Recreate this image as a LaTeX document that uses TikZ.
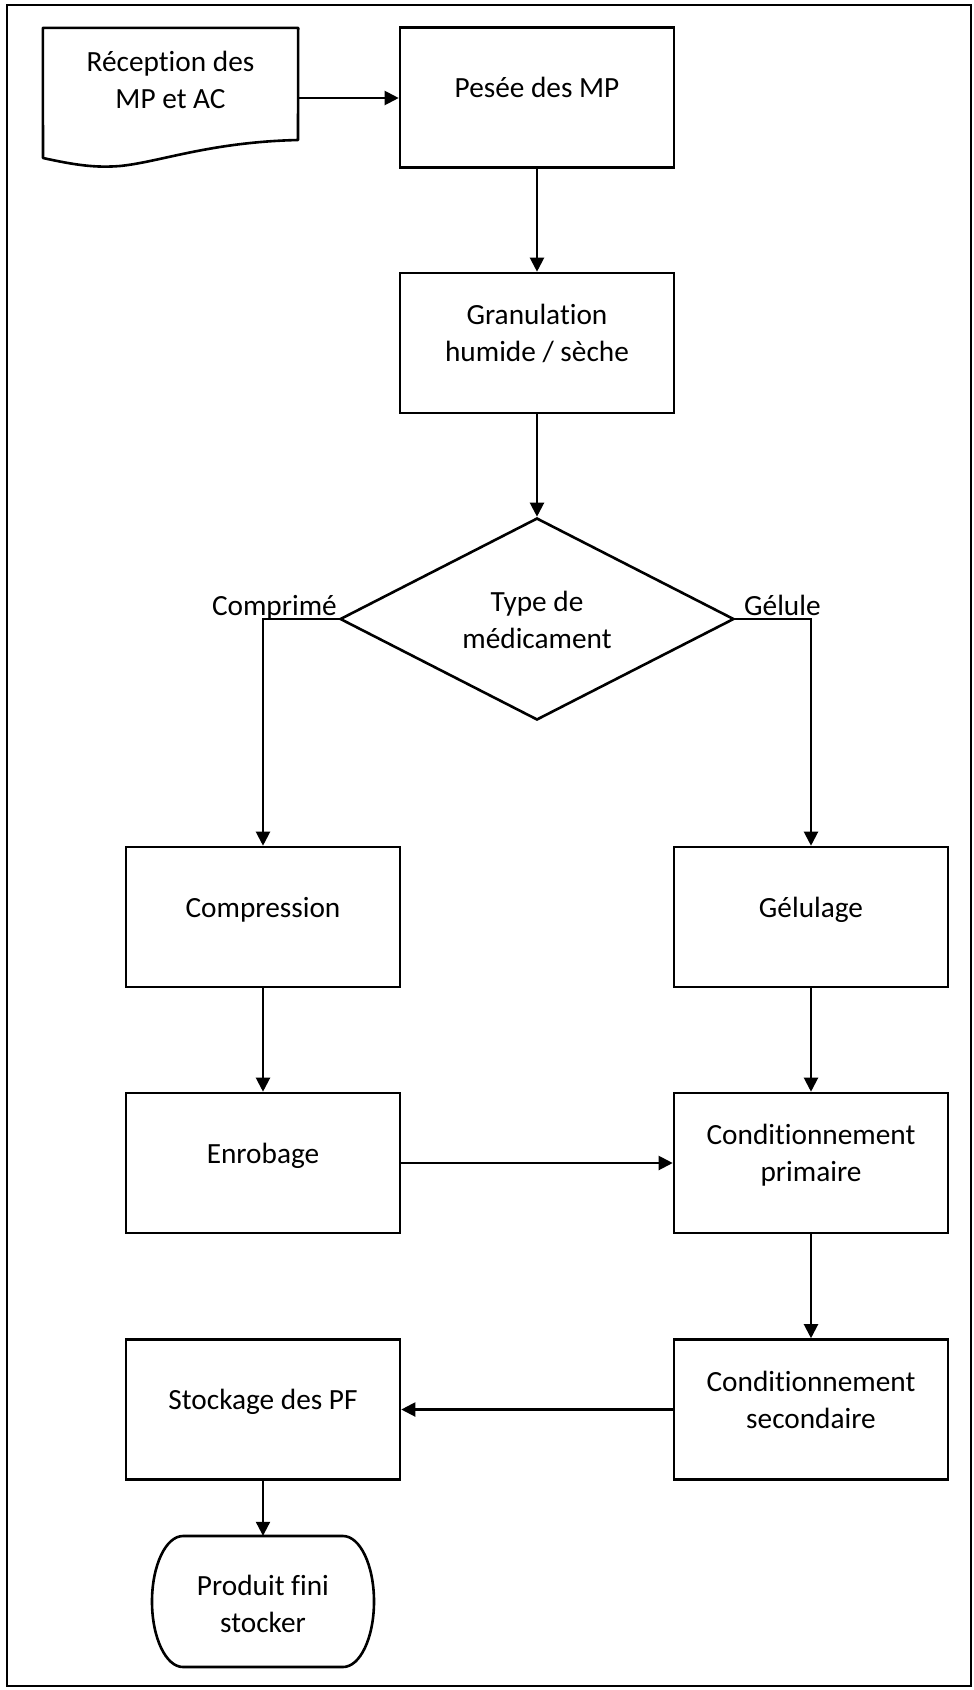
\documentclass[tikz,border=0pt]{standalone}
\usepackage{fontspec}
\setmainfont{Carlito}[Ligatures=NoCommon]
\usetikzlibrary{shapes.geometric,arrows.meta}
% every text line gets the same box: 27pt above, 9pt below the baseline
\newcommand\lnstrut{\rule[-9pt]{0pt}{36pt}}

\begin{document}
\begin{tikzpicture}[x=1pt,y=-1pt,
  every node/.style={inner sep=0pt},
  tx/.style={font=\fontsize{29.3}{37}\selectfont, align=center, inner sep=0pt},
  stepbox/.style={draw, line width=2.6pt, minimum width=274pt, minimum height=140pt},
  outline/.style={line width=2.6pt, line join=round},
  flow/.style={line width=2.1pt, -{Triangle[length=14pt,width=14pt]}}]

\useasboundingbox (0,0) rectangle (974,1690);
\fill[white] (0,0) rectangle (974,1690);
\draw[line width=2.2pt] (7,5) rectangle (971,1686);

% start: document shape
\node[minimum width=255pt, minimum height=140pt,
      label={[tx,name=rec-t,yshift=17.5pt]center:{\lnstrut Réception des\\\lnstrut MP et AC}}]
      (rec) at (170.5,98) {};
\draw[outline] (rec.north west) -- (rec.north east) -- (298,140)
  .. controls (210,142) and (160,162) .. (120,166)
  .. controls (95,168) and (75,165) .. (43,158) -- cycle;

% process steps
\node[stepbox, label={[tx,name=pesee-t,yshift=9pt]center:{\lnstrut Pesée des MP}}]
      (pesee) at (537,97.5) {};
\node[stepbox, label={[tx,name=gran-t,yshift=9pt]center:{\lnstrut Granulation\\\lnstrut humide / sèche}}]
      (gran) at (537,343) {};

% decision
\node[draw, diamond, line width=2.6pt, minimum width=394pt, minimum height=202pt,
      label={[tx,name=type-t,yshift=-1.5pt]center:{\lnstrut Type de\\\lnstrut médicament}}]
      (type) at (537,619) {};
\node[tx, anchor=base east] (lbl-comp) at (337,615) {Comprimé};
\node[tx, anchor=base west] (lbl-gel) at (744,615) {Gélule};

\node[stepbox, label={[tx,name=comp-t,yshift=9pt]center:{\lnstrut Compression}}]
      (comp) at (263,917) {};
\node[stepbox, label={[tx,name=gel-t,yshift=9pt]center:{\lnstrut Gélulage}}]
      (gel) at (811,917) {};
\node[stepbox, label={[tx,name=enr-t,yshift=9pt]center:{\lnstrut Enrobage}}]
      (enr) at (263,1163) {};
\node[stepbox, label={[tx,name=cp-t,yshift=9pt]center:{\lnstrut Conditionnement\\\lnstrut primaire}}]
      (cp) at (811,1163) {};
\node[stepbox, label={[tx,name=stock-t,yshift=9pt]center:{\lnstrut Stockage des PF}}]
      (stock) at (263,1409.5) {};
\node[stepbox, label={[tx,name=cs-t,yshift=9pt]center:{\lnstrut Conditionnement\\\lnstrut secondaire}}]
      (cs) at (811,1409.5) {};

% end: terminal shape
\node[minimum width=222pt, minimum height=131pt,
      label={[tx,name=fin-t,yshift=-3pt]center:{\lnstrut Produit fini\\\lnstrut stocker}}]
      (fin) at (263,1601.5) {};
\draw[outline] (183,1536) -- (343,1536)
  arc[start angle=90, end angle=-90, x radius=31pt, y radius=65.5pt]
  -- (183,1667)
  arc[start angle=270, end angle=90, x radius=31pt, y radius=65.5pt] -- cycle;

% connectors
\draw[flow] (rec.east) -- (rec.east -| pesee.west);
\draw[flow] (pesee) -- (gran);
\draw[flow] (gran) -- (type);
\draw[flow] (type.west) -| (comp.north);
\draw[flow] (type.east) -| (gel.north);
\draw[flow] (comp) -- (enr);
\draw[flow] (gel) -- (cp);
\draw[flow] (enr) -- (cp);
\draw[flow] (cp) -- (cs);
\draw[flow] (cs) -- (stock);
\draw[flow] (stock) -- (fin);
\end{tikzpicture}
\end{document}
